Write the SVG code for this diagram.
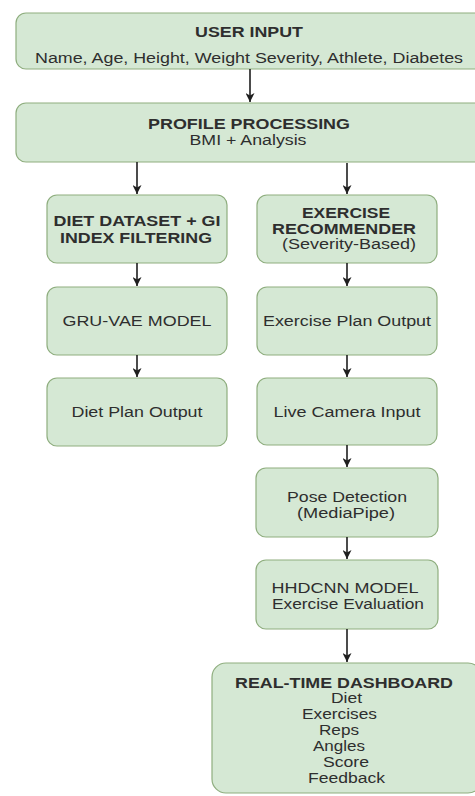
<svg xmlns="http://www.w3.org/2000/svg" width="475" height="796" viewBox="0 0 475 796">
  <style>
    .box { fill: #d5e8d4; stroke: #8fae7f; stroke-width: 1.2; }
    .t { font-family: "Liberation Sans", Arial, sans-serif; font-size: 14px; fill: #2e2e2e; text-anchor: middle; }
    .b { font-weight: bold; }
    .edge { stroke: #1f1f1f; stroke-width: 1.6; fill: none; marker-end: url(#arrow); }
  </style>
  <defs>
    <marker id="arrow" markerUnits="userSpaceOnUse" markerWidth="10" markerHeight="9" refX="9" refY="4.5" orient="auto">
      <path d="M0,0 L9,4.5 L0,9 L2.5,4.5 Z" fill="#1f1f1f"/>
    </marker>
  </defs>
  <rect width="475" height="796" fill="#ffffff"/>

  <g id="user-input">
    <rect class="box" x="16" y="13" width="470" height="56" rx="10"/>
    <text class="t b" x="249" y="37" textLength="108" lengthAdjust="spacingAndGlyphs">USER INPUT</text>
    <text class="t" x="249" y="63" textLength="428" lengthAdjust="spacingAndGlyphs">Name, Age, Height, Weight Severity, Athlete, Diabetes</text>
  </g>

  <g id="profile-processing">
    <rect class="box" x="16" y="103" width="470" height="59" rx="10"/>
    <text class="t b" x="249" y="129" textLength="202" lengthAdjust="spacingAndGlyphs">PROFILE PROCESSING</text>
    <text class="t" x="248" y="145" textLength="117" lengthAdjust="spacingAndGlyphs">BMI + Analysis</text>
  </g>

  <g id="diet-dataset">
    <rect class="box" x="47" y="195" width="180" height="68" rx="10"/>
    <text class="t b" x="137" y="226" textLength="167" lengthAdjust="spacingAndGlyphs">DIET DATASET + GI</text>
    <text class="t b" x="136" y="243" textLength="152" lengthAdjust="spacingAndGlyphs">INDEX FILTERING</text>
  </g>

  <g id="gru-vae">
    <rect class="box" x="47" y="287" width="180" height="68" rx="10"/>
    <text class="t" x="137" y="326" textLength="149" lengthAdjust="spacingAndGlyphs">GRU-VAE MODEL</text>
  </g>

  <g id="diet-plan">
    <rect class="box" x="47" y="378" width="180" height="68" rx="10"/>
    <text class="t" x="137" y="417" textLength="131" lengthAdjust="spacingAndGlyphs">Diet Plan Output</text>
  </g>

  <g id="exercise-recommender">
    <rect class="box" x="257" y="195" width="180" height="68" rx="10"/>
    <text class="t b" x="346" y="218" textLength="88" lengthAdjust="spacingAndGlyphs">EXERCISE</text>
    <text class="t b" x="344" y="234" textLength="144" lengthAdjust="spacingAndGlyphs">RECOMMENDER</text>
    <text class="t" x="349" y="249" textLength="134" lengthAdjust="spacingAndGlyphs">(Severity-Based)</text>
  </g>

  <g id="exercise-plan">
    <rect class="box" x="257" y="287" width="180" height="68" rx="10"/>
    <text class="t" x="347" y="326" textLength="168" lengthAdjust="spacingAndGlyphs">Exercise Plan Output</text>
  </g>

  <g id="live-camera">
    <rect class="box" x="257" y="378" width="180" height="67" rx="10"/>
    <text class="t" x="347" y="417" textLength="147" lengthAdjust="spacingAndGlyphs">Live Camera Input</text>
  </g>

  <g id="pose-detection">
    <rect class="box" x="256" y="468" width="182" height="69" rx="10"/>
    <text class="t" x="347" y="502" textLength="120" lengthAdjust="spacingAndGlyphs">Pose Detection</text>
    <text class="t" x="346" y="518" textLength="98" lengthAdjust="spacingAndGlyphs">(MediaPipe)</text>
  </g>

  <g id="hhdcnn">
    <rect class="box" x="256" y="560" width="182" height="69" rx="10"/>
    <text class="t" x="345" y="593" textLength="147" lengthAdjust="spacingAndGlyphs">HHDCNN MODEL</text>
    <text class="t" x="348" y="609" textLength="152" lengthAdjust="spacingAndGlyphs">Exercise Evaluation</text>
  </g>

  <g id="dashboard">
    <rect class="box" x="212" y="663" width="270" height="130" rx="14"/>
    <text class="t b" x="344" y="688" textLength="218" lengthAdjust="spacingAndGlyphs">REAL-TIME DASHBOARD</text>
    <text class="t" x="346.5" y="703" textLength="31" lengthAdjust="spacingAndGlyphs">Diet</text>
    <text class="t" x="339.5" y="719" textLength="75" lengthAdjust="spacingAndGlyphs">Exercises</text>
    <text class="t" x="339" y="735" textLength="40" lengthAdjust="spacingAndGlyphs">Reps</text>
    <text class="t" x="339" y="751" textLength="52" lengthAdjust="spacingAndGlyphs">Angles</text>
    <text class="t" x="346" y="767" textLength="46" lengthAdjust="spacingAndGlyphs">Score</text>
    <text class="t" x="346.5" y="783" textLength="77" lengthAdjust="spacingAndGlyphs">Feedback</text>
  </g>

  <g id="connectors">
    <line class="edge" x1="250" y1="69" x2="250" y2="102"/>
    <line class="edge" x1="137" y1="162" x2="137" y2="194"/>
    <line class="edge" x1="347" y1="163" x2="347" y2="194"/>
    <line class="edge" x1="137" y1="263" x2="137" y2="286"/>
    <line class="edge" x1="137" y1="355" x2="137" y2="377"/>
    <line class="edge" x1="347" y1="263" x2="347" y2="286"/>
    <line class="edge" x1="347" y1="355" x2="347" y2="377"/>
    <line class="edge" x1="347" y1="445" x2="347" y2="467"/>
    <line class="edge" x1="347" y1="537" x2="347" y2="559"/>
    <line class="edge" x1="347" y1="629" x2="347" y2="662"/>
  </g>
</svg>
